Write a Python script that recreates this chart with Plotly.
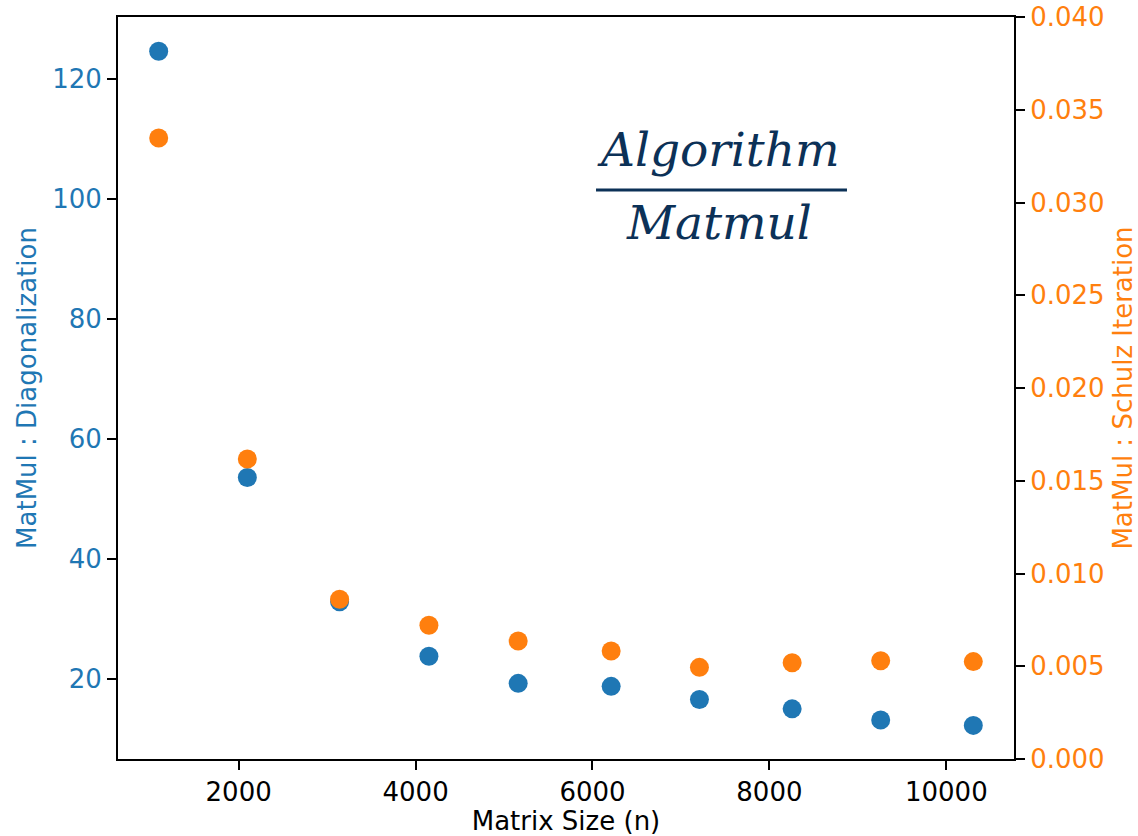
import plotly.graph_objects as go

matrix_size = [1096, 2098, 3141, 4151, 5160, 6211, 7209, 8257, 9258, 10305]
diag_ratio = [124.6, 53.6, 32.9, 23.8, 19.3, 18.8, 16.6, 15.05, 13.2, 12.3]
schulz_ratio = [0.03348, 0.01617, 0.00861, 0.00721, 0.00636, 0.00582, 0.00494, 0.00519, 0.00530, 0.00525]

x_ticks = [2000, 4000, 6000, 8000, 10000]
y1_ticks = [20, 40, 60, 80, 100, 120]
y2_ticks = [0.000, 0.005, 0.010, 0.015, 0.020, 0.025, 0.030, 0.035, 0.040]

BLUE = "#1f77b4"
ORANGE = "#ff7f0e"
NAVY = "#0c3157"
FONT = "DejaVu Sans"
FS = 26

fig = go.Figure()
fig.add_trace(go.Scatter(x=matrix_size, y=diag_ratio, mode="markers",
                         marker=dict(color=BLUE, size=19, line=dict(width=0)),
                         showlegend=False))
fig.add_trace(go.Scatter(x=matrix_size, y=schulz_ratio, mode="markers", yaxis="y2",
                         marker=dict(color=ORANGE, size=19, line=dict(width=0)),
                         showlegend=False))

axis_common = dict(showgrid=False, zeroline=False, showline=True, linecolor="black",
                   linewidth=2, ticks="outside", ticklen=9, tickwidth=2, tickcolor="black",
                   automargin=False)

fig.update_layout(
    width=1138, height=836,
    margin=dict(l=118, r=124, t=17, b=77),
    plot_bgcolor="white", paper_bgcolor="white",
    font=dict(family=FONT, size=FS, color="black"),
    xaxis=dict(range=[636, 10765], tickvals=x_ticks, ticktext=[str(v) for v in x_ticks],
               title=dict(text="Matrix Size (n)", font=dict(size=FS), standoff=8),
               tickfont=dict(size=FS), mirror=True, **axis_common),
    yaxis=dict(range=[6.7, 130.3], tickvals=y1_ticks, ticktext=[str(v) for v in y1_ticks],
               tickfont=dict(size=FS, color=BLUE),
               title=dict(text="MatMul : Diagonalization", font=dict(size=FS, color=BLUE), standoff=8),
               **axis_common),
    yaxis2=dict(range=[0, 0.04], tickvals=y2_ticks, ticktext=["%.3f" % v for v in y2_ticks],
                overlaying="y", side="right", anchor="x",
                tickfont=dict(size=FS, color=ORANGE),
                title=dict(text="MatMul : Schulz Iteration", font=dict(size=FS, color=ORANGE), standoff=18),
                **axis_common),
)

fig.add_annotation(xref="paper", yref="paper", x=0.6705, y=0.8208, text="<i>Algorithm</i>",
                   xanchor="center", yanchor="middle",
                   showarrow=False, font=dict(family="DejaVu Serif", size=47, color=NAVY))
fig.add_annotation(xref="paper", yref="paper", x=0.6705, y=0.7237, text="<i>Matmul</i>",
                   xanchor="center", yanchor="middle",
                   showarrow=False, font=dict(family="DejaVu Serif", size=47, color=NAVY))
fig.add_shape(type="line", xref="paper", yref="paper", x0=0.5335, x1=0.8136, y0=0.7668, y1=0.7668,
              line=dict(color=NAVY, width=3))

fig.write_html("out.html")
